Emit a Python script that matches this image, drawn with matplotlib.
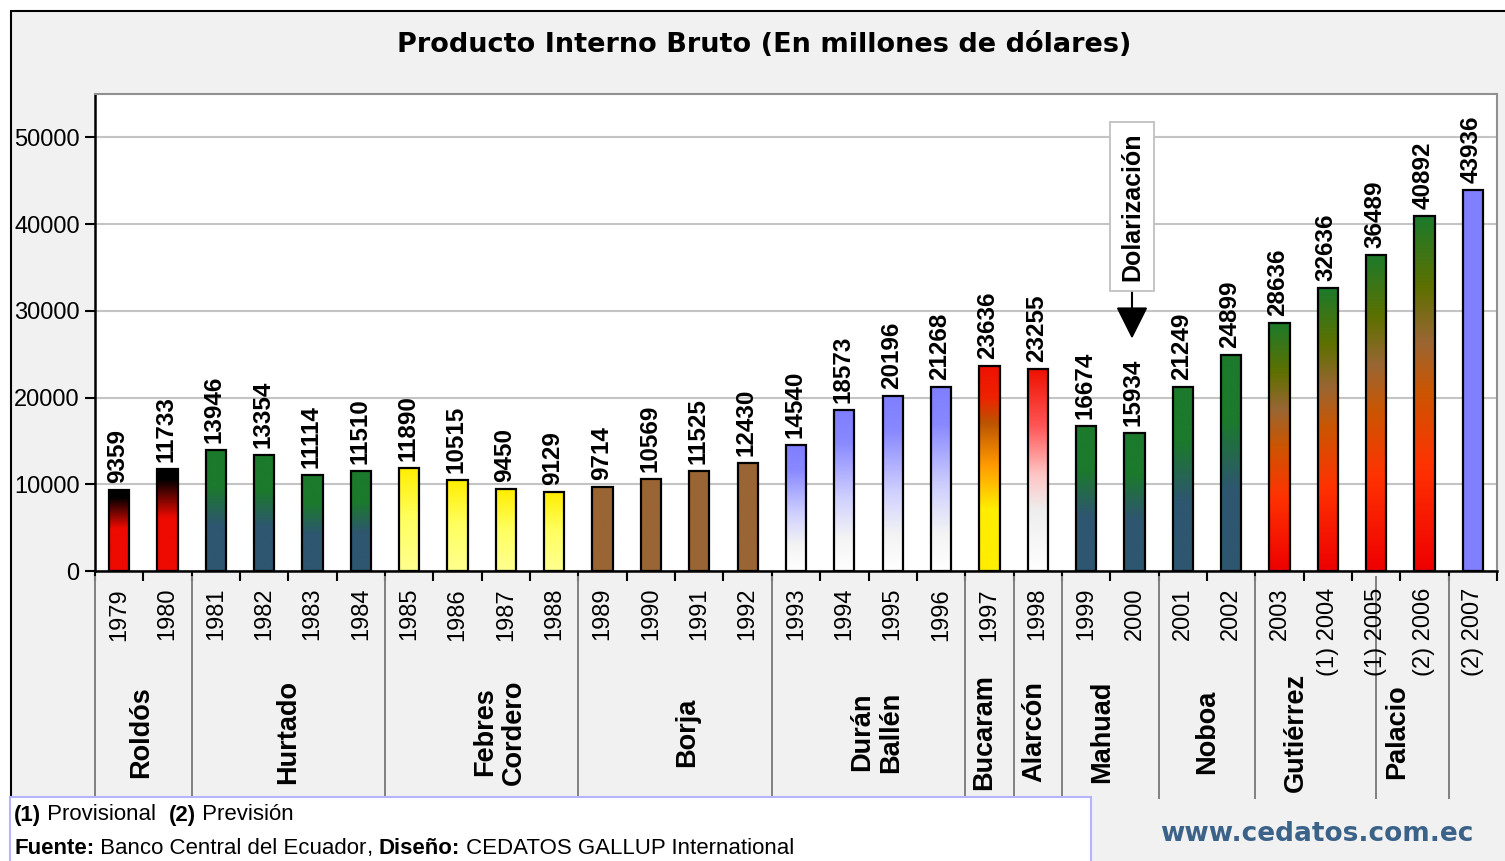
import numpy as np
import matplotlib
matplotlib.use("Agg")
import matplotlib.pyplot as plt
from matplotlib.patches import Rectangle
from matplotlib.colors import to_rgb

# --- data ---
years = ["1979", "1980", "1981", "1982", "1983", "1984", "1985", "1986",
         "1987", "1988", "1989", "1990", "1991", "1992", "1993", "1994",
         "1995", "1996", "1997", "1998", "1999", "2000", "2001", "2002",
         "2003", "(1) 2004", "(1) 2005", "(2) 2006", "(2) 2007"]
pib = [9359, 11733, 13946, 13354, 11114, 11510, 11890, 10515, 9450, 9129,
       9714, 10569, 11525, 12430, 14540, 18573, 20196, 21268, 23636, 23255,
       16674, 15934, 21249, 24899, 28636, 32636, 36489, 40892, 43936]
presidents = ["Roldós", "Hurtado", "Febres\nCordero", "Borja", "Durán\nBallén",
              "Bucaram", "Alarcón", "Mahuad", "Noboa", "Gutiérrez", "Palacio"]
# group edges in category units (Gutiérrez / Palacio split in mid 2005)
group_edges = [-0.5, 1.5, 5.5, 9.5, 13.5, 17.5, 18.5, 19.5, 21.5, 23.5, 26.0, 27.5]
dolar_idx = 21  # 2000

# label placement (category units), as laid out in the original
pres_pos = [0.45, 3.5, 7.87, 11.74, 15.67, 17.9, 18.94, 20.34, 22.5, 24.33, 26.44]

# --- bar colour schemes (bottom -> top) ---
SCHEMES = {
    "rb": [(0, "#ee0a00"), (0.52, "#ee0a00"), (0.9, "#000000"), (1, "#000000")],
    "gt": [(0, "#2e5670"), (0.38, "#2e5670"), (0.7, "#1b7a2b"), (1, "#1b7a2b")],
    "y":  [(0, "#ffff90"), (0.5, "#ffff60"), (1, "#ffee00")],
    "br": [(0, "#9a6535"), (1, "#9a6535")],
    "bl": [(0, "#ffffff"), (0.2, "#f4f4f4"), (0.45, "#d0d0ff"), (0.8, "#8888ff"), (1, "#7f7fff")],
    "ry": [(0, "#ffee00"), (0.3, "#ffee00"), (0.52, "#ff9900"), (0.72, "#bb5500"), (0.85, "#ee2200"), (1, "#ee1100")],
    "rw": [(0, "#ffffff"), (0.3, "#eeeeee"), (0.48, "#ffc4c4"), (0.72, "#ff5555"), (1, "#ee1100")],
    "rg": [(0, "#ee0000"), (0.3, "#ff3300"), (0.5, "#cc5500"), (0.65, "#996633"), (0.8, "#5e7000"), (1, "#1b7a2b")],
    "pu": [(0, "#8080ff"), (1, "#8080ff")],
}
bar_scheme = ["rb", "rb", "gt", "gt", "gt", "gt", "y", "y", "y", "y",
              "br", "br", "br", "br", "bl", "bl", "bl", "bl", "ry", "rw",
              "gt", "gt", "gt", "gt", "rg", "rg", "rg", "rg", "pu"]


def ramp(stops, n=256):
    pos = [p for p, c in stops]
    cols = np.array([to_rgb(c) for p, c in stops])
    t = np.linspace(0, 1, n)
    return np.stack([np.interp(t, pos, cols[:, k]) for k in range(3)], axis=1)[:, None, :]


W, H = 1505, 861


def fx(x):
    return x / W


def fy(y):
    return 1 - y / H


fig = plt.figure(figsize=(W / 100, H / 100), dpi=100)
fig.patch.set_facecolor("white")

# chart background + outer frame
fig.patches.append(Rectangle((fx(11), fy(870)), fx(1520) - fx(11), fy(11) - fy(870),
                             transform=fig.transFigure, facecolor="#f1f1f1",
                             edgecolor="black", lw=1.5, zorder=-5))

# plot area
ax_l, ax_r, ax_t, ax_b = 95, 1497, 94, 571
ax = fig.add_axes([fx(ax_l), fy(ax_b), fx(ax_r) - fx(ax_l), fy(ax_t) - fy(ax_b)])
ax.set_facecolor("white")
ax_h = ax_b - ax_t

x = np.arange(len(years))
bars = ax.bar(x, pib, width=0.42, facecolor="none", edgecolor="black", lw=1.6, zorder=3)
for b, s in zip(bars, bar_scheme):
    ax.imshow(ramp(SCHEMES[s]), extent=[b.get_x(), b.get_x() + b.get_width(), 0, b.get_height()],
              origin="lower", aspect="auto", zorder=2, interpolation="bilinear")

for i, v in enumerate(pib):
    ax.annotate(str(v), (i, v), xytext=(-1, 5), textcoords="offset points",
                rotation=90, ha="center", va="bottom", fontsize=17.5,
                fontweight="bold", family="Liberation Sans")

ax.set_xlim(-0.5, len(years) - 0.5)
ax.set_ylim(0, 55000)
ax.set_yticks(np.arange(0, 50001, 10000))
ax.set_yticklabels([str(t) for t in range(0, 50001, 10000)], fontsize=17, family="Liberation Sans")
ax.yaxis.grid(True, color="#c4c4c4", lw=1.5, zorder=1)
ax.set_axisbelow(True)
ax.set_xticks(np.arange(-0.5, len(years), 1.0))
ax.set_xticklabels([])
ax.tick_params(axis="both", direction="out", length=7, width=1.5, color="black")
ax.tick_params(axis="y", pad=4)
for sp in ["top", "right"]:
    ax.spines[sp].set_color("#909090")
    ax.spines[sp].set_linewidth(1.5)
for sp in ["left", "bottom"]:
    ax.spines[sp].set_color("black")
    ax.spines[sp].set_linewidth(1.8)

tr = ax.get_xaxis_transform()


def ay(py):
    return (ax_b - py) / ax_h


# year labels
for i, yl in enumerate(years):
    ax.text(i, ay(588), yl, transform=tr, rotation=90, ha="center", va="top",
            fontsize=17, family="Liberation Sans", clip_on=False)

# group separators and president labels
for e in group_edges:
    ax.plot([e, e], [ay(577), ay(798)], transform=tr, color="#808080", lw=1.4, clip_on=False)
for name, p in zip(presidents, pres_pos):
    ax.text(p, ay(732), name, transform=tr, rotation=90, ha="center", va="center",
            fontsize=19.5, fontweight="bold", family="Liberation Sans", clip_on=False,
            linespacing=1.15)

# Dolarización annotation
ax.annotate("", xy=(dolar_idx - 0.05, 26800), xytext=(dolar_idx - 0.05, 32300),
            arrowprops=dict(arrowstyle="-|>,head_width=0.5,head_length=1.0",
                            mutation_scale=20, shrinkA=0, shrinkB=0,
                            color="black", lw=1.5), zorder=4)
ax.text(dolar_idx - 0.05, 42000, "Dolarización", rotation=90, ha="center", va="center",
        fontsize=18, fontweight="bold", family="Liberation Sans", zorder=5,
        bbox=dict(boxstyle="square,pad=0.4", facecolor="white", edgecolor="#c0c0c0", lw=1.3))

# title
fig.text(fx(764), fy(45), "Producto Interno Bruto (En millones de dólares)", ha="center",
         va="center", fontsize=19.5, fontweight="bold", family="DejaVu Sans")

# footer box
fig.patches.append(Rectangle((fx(10), fy(870)), fx(1091) - fx(10), fy(797) - fy(870),
                             transform=fig.transFigure, facecolor="white",
                             edgecolor="#b4b4ff", lw=1.5, zorder=1))

renderer = fig.canvas.get_renderer()


def runs(x0, y0, parts, size=16):
    xpos = x0
    for txt, bold in parts:
        t = fig.text(fx(xpos), fy(y0), txt, ha="left", va="center", fontsize=size,
                     fontweight="bold" if bold else "normal", family="Liberation Sans")
        bb = t.get_window_extent(renderer)
        xpos += bb.width


runs(14, 815, [("(1)", True), (" Provisional  ", False), ("(2)", True), (" Previsión", False)])
runs(14, 848, [("Fuente:", True), (" Banco Central del Ecuador", False), (", ", False),
               ("Diseño:", True), (" CEDATOS GALLUP International", False)])

fig.text(fx(1317), fy(834), "www.cedatos.com.ec", ha="center", va="center",
         fontsize=19, fontweight="bold", family="DejaVu Sans", color="#3b6288")

fig.savefig("out.png", dpi=100)
